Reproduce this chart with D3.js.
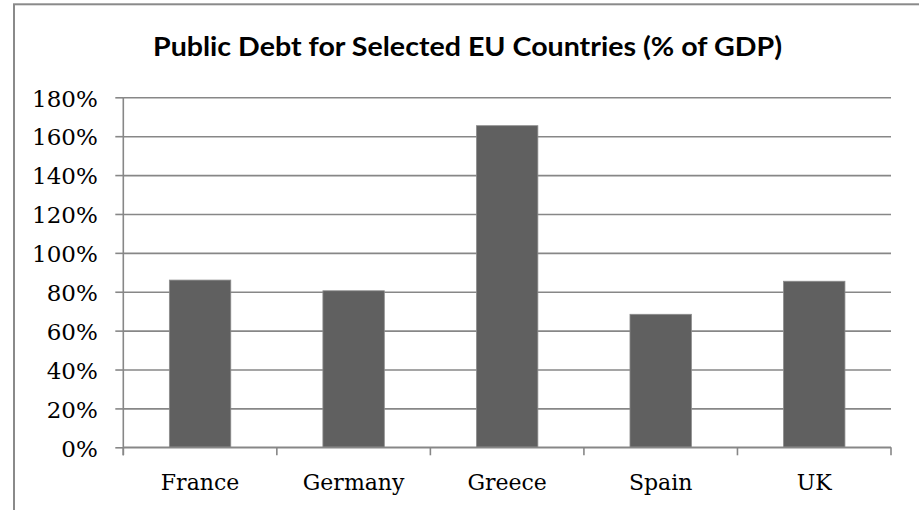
<!DOCTYPE html>
<html>
<head>
<meta charset="utf-8">
<script src="https://cdn.jsdelivr.net/npm/d3@7"></script>
<style>
  html, body { margin: 0; padding: 0; background: #fff; }
  svg { display: block; }
</style>
</head>
<body>
<svg id="chart" width="919" height="510"></svg>
<script>
const categories = ["France", "Germany", "Greece", "Spain", "UK"];
const debtValues = [86.0, 80.5, 165.4, 68.4, 85.4];
const yTickValues = [0, 20, 40, 60, 80, 100, 120, 140, 160, 180];
const titleText = "Public Debt for Selected EU Countries (% of GDP)";

const svg = d3.select("#chart");
const plotLeft = 123.3, plotRight = 891, plotTop = 97.3, plotBottom = 447.3;

// outer chart border (cropped at right/bottom)
svg.append("rect")
  .attr("x", 14).attr("y", 4.3)
  .attr("width", 1000).attr("height", 1000)
  .attr("fill", "#fff")
  .attr("stroke", "#8a8a8a").attr("stroke-width", 2);

svg.append("text")
  .attr("x", 467.5).attr("y", 55.5)
  .attr("text-anchor", "middle")
  .attr("font-family", "Lato, 'Open Sans', sans-serif")
  .attr("font-weight", "bold")
  .attr("font-size", 26)
  .attr("textLength", 629)
  .attr("lengthAdjust", "spacingAndGlyphs")
  .attr("fill", "#000")
  .text(titleText);

const y = d3.scaleLinear().domain([0, 180]).range([plotBottom, plotTop]);
const xSlots = d3.scaleBand().domain(categories).range([plotLeft, plotRight]).padding(0);
const x = d3.scaleBand().domain(categories).range([plotLeft, plotRight]).paddingInner(0.6).paddingOuter(0.3);

const gridColor = "#878787";

// gridlines + y ticks
const yAxis = d3.axisLeft(y).tickValues(yTickValues).tickSize(8).tickFormat(d => d + "%");
const gy = svg.append("g").attr("transform", `translate(${plotLeft},0)`).call(yAxis);
gy.select(".domain").remove();
gy.selectAll(".tick line").attr("stroke", gridColor).attr("stroke-width", 1.6);
gy.selectAll(".tick").append("line")
  .attr("x1", 0).attr("x2", plotRight - plotLeft)
  .attr("stroke", gridColor).attr("stroke-width", 1.6);
gy.selectAll(".tick text")
  .attr("x", -25.5)
  .attr("dy", "0.38em")
  .attr("font-family", "'DejaVu Serif', serif")
  .attr("font-size", 23)
  .attr("fill", "#000");

// y axis line
svg.append("line")
  .attr("x1", plotLeft).attr("x2", plotLeft)
  .attr("y1", plotTop).attr("y2", plotBottom + 8)
  .attr("stroke", gridColor).attr("stroke-width", 1.6);

// bars
svg.append("g").selectAll("rect")
  .data(categories)
  .join("rect")
  .attr("x", d => x(d))
  .attr("width", x.bandwidth())
  .attr("y", (d, i) => y(debtValues[i]))
  .attr("height", (d, i) => y(0) - y(debtValues[i]))
  .attr("fill", "#606060")
  .attr("stroke", "#8c8c8c")
  .attr("stroke-width", 0.8);

// x axis
const boundaries = categories.map(c => xSlots(c)).concat([plotRight]);
svg.append("line")
  .attr("x1", plotLeft).attr("x2", plotRight)
  .attr("y1", plotBottom).attr("y2", plotBottom)
  .attr("stroke", gridColor).attr("stroke-width", 1.6);
svg.append("g").selectAll("line")
  .data(boundaries)
  .join("line")
  .attr("x1", d => d).attr("x2", d => d)
  .attr("y1", plotBottom).attr("y2", plotBottom + 8)
  .attr("stroke", gridColor).attr("stroke-width", 1.6);

svg.append("g").selectAll("text")
  .data(categories)
  .join("text")
  .attr("x", d => xSlots(d) + xSlots.bandwidth() / 2)
  .attr("y", 490)
  .attr("text-anchor", "middle")
  .attr("font-family", "'DejaVu Serif', serif")
  .attr("font-size", 22)
  .attr("fill", "#000")
  .text(d => d);
</script>
</body>
</html>
